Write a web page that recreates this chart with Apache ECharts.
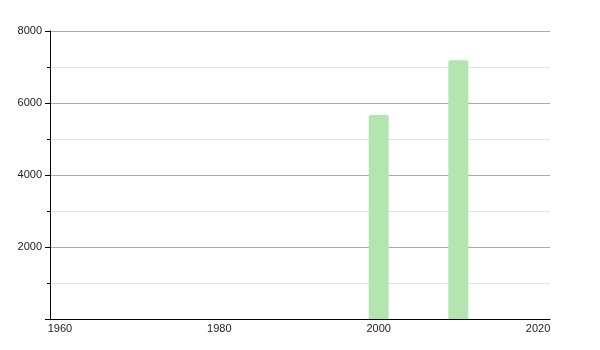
<!DOCTYPE html>
<html>
<head>
<meta charset="utf-8">
<script src="https://cdn.jsdelivr.net/npm/echarts@6/dist/echarts.min.js"></script>
<style>html,body{margin:0;padding:0;background:#fff}#c{width:600px;height:350px}</style>
</head>
<body>
<div id="c"></div>
<script>
var years = [2000, 2010];
var values = [5670, 7190];
var xTickLabels = [1960, 1980, 2000, 2020];
var yTickLabels = [2000, 4000, 6000, 8000];

var chart = echarts.init(document.getElementById('c'), null, {renderer: 'canvas'});
chart.setOption({
  animation: false,
  grid: {left: 50, right: 50, top: 31, bottom: 31, containLabel: false},
  xAxis: {
    type: 'value',
    min: 1958.75,
    max: 2021.5,
    axisLine: {show: true, lineStyle: {color: '#000', width: 1}},
    axisTick: {show: false},
    splitLine: {show: false},
    axisLabel: {
      customValues: xTickLabels,
      color: '#222',
      fontFamily: 'Liberation Sans, Arial, sans-serif',
      fontSize: 11,
      margin: 4,
      formatter: function (v) { return String(v); }
    }
  },
  yAxis: {
    type: 'value',
    min: 0,
    max: 8000,
    interval: 2000,
    axisLine: {show: true, lineStyle: {color: '#000', width: 1}},
    axisTick: {show: true, length: 5, lineStyle: {color: '#000'}},
    minorTick: {show: true, splitNumber: 2, length: 3, lineStyle: {color: '#000'}},
    splitLine: {show: true, lineStyle: {color: '#aaaaaa', width: 1}},
    minorSplitLine: {show: true, lineStyle: {color: '#e4e4e4', width: 1}},
    axisLabel: {
      color: '#222',
      fontFamily: 'Liberation Sans, Arial, sans-serif',
      fontSize: 11,
      margin: 8,
      formatter: function (v) { return yTickLabels.indexOf(v) >= 0 ? String(v) : ''; }
    }
  },
  series: [{
    type: 'bar',
    barWidth: 20,
    itemStyle: {color: '#b3e5b1', borderRadius: [2, 2, 0, 0]},
    data: years.map(function (y, i) { return [y, values[i]]; })
  }]
});
</script>
</body>
</html>
